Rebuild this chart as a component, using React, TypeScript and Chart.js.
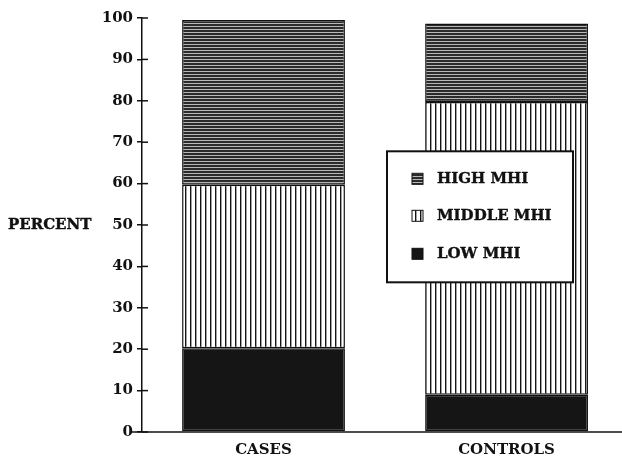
import React, { useEffect, useRef } from "react";
import { Chart, registerables } from "chart.js";

Chart.register(...registerables);

const categories = ["CASES", "CONTROLS"];
const lowMHI = [20.2, 9];
const middleMHI = [39.5, 70.7];
const highMHI = [39.8, 19];
const seriesLabels = ["LOW MHI", "MIDDLE MHI", "HIGH MHI"];
const yTicks = [0, 10, 20, 30, 40, 50, 60, 70, 80, 90, 100];

const FONT = "'DejaVu Serif', serif";

function makePattern(kind: "h" | "v" | "solid"): CanvasPattern | string {
  if (kind === "solid") return "#151515";
  const c = document.createElement("canvas");
  const ctx = c.getContext("2d")!;
  if (kind === "h") {
    c.width = 4; c.height = 3;
    ctx.fillStyle = "#2b2b2b";
    ctx.fillRect(0, 0, 4, 3);
    ctx.fillStyle = "#b8b8b8";
    ctx.fillRect(0, 2, 4, 1);
  } else {
    c.width = 5; c.height = 4;
    ctx.fillStyle = "#ffffff";
    ctx.fillRect(0, 0, 5, 4);
    ctx.fillStyle = "#151515";
    ctx.fillRect(0, 0, 1.4, 4);
  }
  return ctx.createPattern(c, "repeat")!;
}

const toPoints = (arr: number[]) => arr.map((v, i) => ({ x: i, y: v }));

export default function App() {
  const ref = useRef<HTMLCanvasElement>(null);
  useEffect(() => {
    const canvas = ref.current!;
    const pLow = makePattern("solid");
    const pMid = makePattern("v");
    const pHigh = makePattern("h");

    const extras = {
      id: "extras",
      afterDraw(chart: any) {
        const ctx = chart.ctx;
        const { left, right, bottom } = chart.chartArea;
        const y = chart.scales.y;
        ctx.save();
        ctx.strokeStyle = "#111";
        ctx.lineWidth = 1.5;
        yTicks.forEach((t) => {
          const py = y.getPixelForValue(t);
          ctx.beginPath();
          ctx.moveTo(left, py);
          ctx.lineTo(left + 6, py);
          ctx.stroke();
        });
        ctx.beginPath();
        ctx.moveTo(left - 10, bottom);
        ctx.lineTo(right, bottom);
        ctx.stroke();
        ctx.fillStyle = "#111";
        ctx.strokeStyle = "#111";
        ctx.font = `bold 15px ${FONT}`;
        ctx.textAlign = "left";
        ctx.textBaseline = "middle";
        ctx.lineWidth = 0.4;
        ctx.fillText("PERCENT", 8, y.getPixelForValue(50));
        ctx.strokeText("PERCENT", 8, y.getPixelForValue(50));

        const bx = left + 245;
        const by = y.getPixelForValue(67.8);
        const bw = 186;
        const bh = 131;
        ctx.fillStyle = "#fff";
        ctx.fillRect(bx, by, bw, bh);
        ctx.lineWidth = 2;
        ctx.strokeRect(bx, by, bw, bh);
        const items = [
          { label: seriesLabels[2], fill: pHigh },
          { label: seriesLabels[1], fill: pMid },
          { label: seriesLabels[0], fill: pLow },
        ];
        const rowsY = [28, 65, 103];
        items.forEach((it, i) => {
          const cy = by + rowsY[i];
          ctx.fillStyle = it.fill as any;
          ctx.fillRect(bx + 25, cy - 6, 11, 11);
          ctx.lineWidth = 1;
          ctx.strokeStyle = "#111";
          ctx.strokeRect(bx + 25, cy - 6, 11, 11);
          ctx.fillStyle = "#111";
          ctx.font = `bold 15px ${FONT}`;
          ctx.textBaseline = "middle";
          ctx.lineWidth = 0.4;
          ctx.fillText(it.label, bx + 50, cy);
          ctx.strokeText(it.label, bx + 50, cy);
        });
        ctx.restore();
      },
    };

    const chart = new Chart(canvas, {
      type: "bar",
      data: {
        datasets: [
          { label: seriesLabels[0], data: toPoints(lowMHI), backgroundColor: pLow as any, borderColor: "#111", borderWidth: 1.5, borderSkipped: false },
          { label: seriesLabels[1], data: toPoints(middleMHI), backgroundColor: pMid as any, borderColor: "#111", borderWidth: 1.5, borderSkipped: false },
          { label: seriesLabels[2], data: toPoints(highMHI), backgroundColor: pHigh as any, borderColor: "#111", borderWidth: 1.5, borderSkipped: false },
        ],
      },
      options: {
        responsive: false,
        animation: false,
        layout: { padding: { top: 18, right: 0, left: 0, bottom: 0 } },
        plugins: { legend: { display: false }, tooltip: { enabled: false } },
        datasets: { bar: { barPercentage: 0.67, categoryPercentage: 1 } },
        scales: {
          x: {
            type: "linear",
            stacked: true,
            min: -0.5,
            max: 1.475,
            offset: false,
            afterBuildTicks: (s: any) => { s.ticks = categories.map((_, i) => ({ value: i })); },
            grid: { display: false, drawTicks: false },
            border: { display: false },
            ticks: {
              color: "#111",
              font: { family: FONT, weight: "bold", size: 15 },
              padding: 9,
              maxRotation: 0,
              callback: (v: any) => categories[v as number] ?? "",
            },
            afterFit: (s: any) => { s.height = 28; },
          },
          y: {
            stacked: true,
            min: 0,
            max: 100,
            afterBuildTicks: (s: any) => { s.ticks = yTicks.map((v) => ({ value: v })); },
            grid: { display: true, drawOnChartArea: false, tickLength: 5, color: "#111", lineWidth: 1.5 },
            border: { display: true, color: "#111", width: 1.5 },
            ticks: { color: "#111", font: { family: FONT, weight: "bold", size: 15 }, padding: 4 },
            afterFit: (s: any) => { s.width = 142; },
          },
        },
      },
      plugins: [extras],
    });
    return () => chart.destroy();
  }, []);
  return (
    <div style={{ position: "fixed", left: 0, top: 0, width: 622, height: 460, background: "#fff" }}>
      <canvas ref={ref} width={622} height={460} />
    </div>
  );
}
